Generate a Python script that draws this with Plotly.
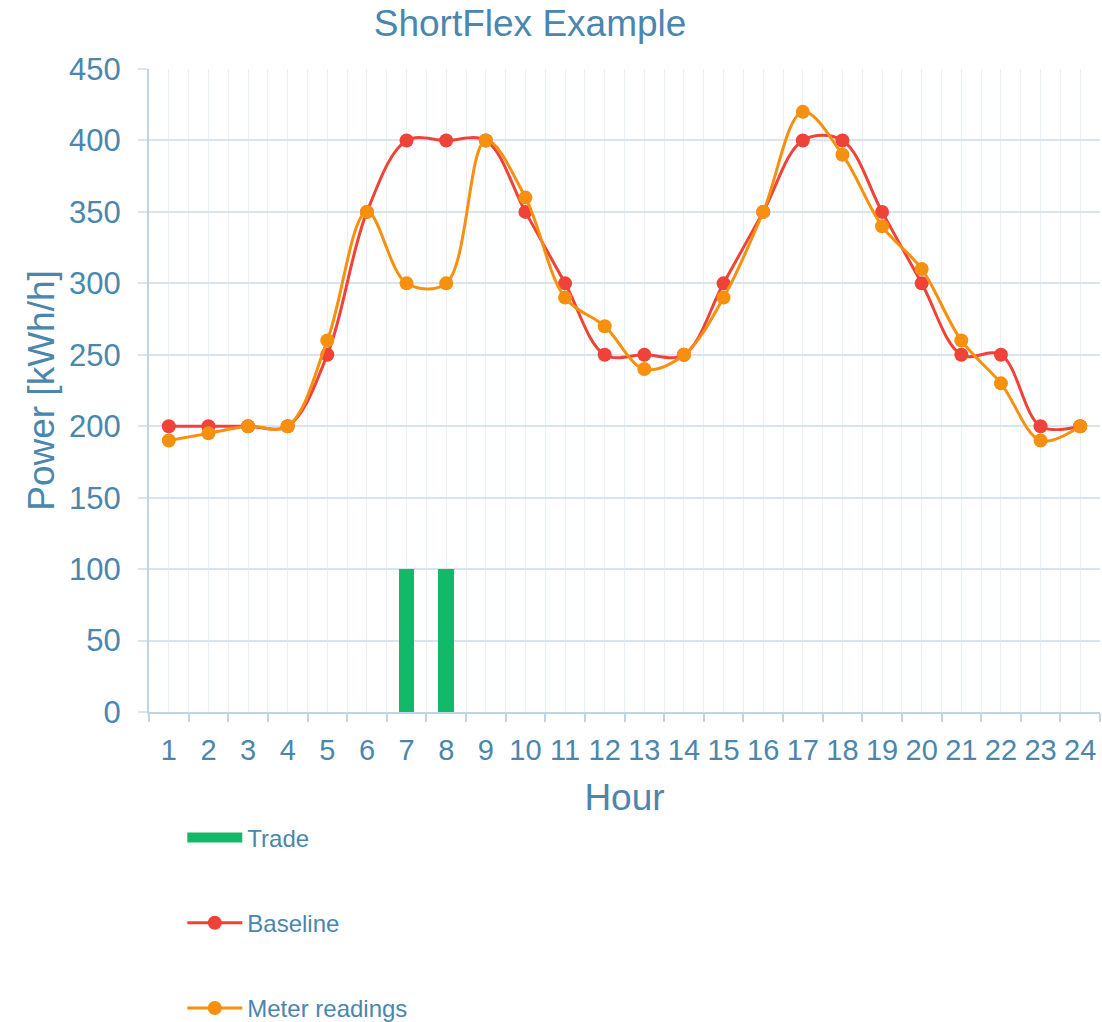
import plotly.graph_objects as go

hours = list(range(1, 25))
hour_labels = [str(h) for h in hours]
trade = [None, None, None, None, None, None, 100, 100, None, None, None, None,
         None, None, None, None, None, None, None, None, None, None, None, None]
baseline = [200, 200, 200, 200, 250, 350, 400, 400, 400, 350, 300, 250,
            250, 250, 300, 350, 400, 400, 350, 300, 250, 250, 200, 200]
meter = [190, 195, 200, 200, 260, 350, 300, 300, 400, 360, 290, 270,
         240, 250, 290, 350, 420, 390, 340, 310, 260, 230, 190, 200]

TXT = "#4a86ad"
FONT = "Liberation Sans, Arial, sans-serif"
GREEN = "#13b868"

fig = go.Figure()
fig.add_trace(go.Bar(x=hours, y=trade, name="Trade", width=0.4,
                     marker=dict(color=GREEN, line=dict(width=0)),
                     legendgroup="a", showlegend=False))
# legend-only entry to show a wide green swatch like the reference
fig.add_trace(go.Scatter(x=[None], y=[None], name="Trade", mode="lines",
                         line=dict(color=GREEN, width=14), legendgroup="a"))
fig.add_trace(go.Scatter(x=hours, y=baseline, name="Baseline", mode="lines+markers",
                         line=dict(color="#ef4238", width=3, shape="spline", smoothing=1),
                         marker=dict(size=14, color="#ef4238"), legendgroup="b"))
fig.add_trace(go.Scatter(x=hours, y=meter, name="Meter readings", mode="lines+markers",
                         line=dict(color="#f7900f", width=3, shape="spline", smoothing=1),
                         marker=dict(size=14, color="#f7900f"), legendgroup="c"))

fig.update_layout(
    width=1102, height=1022,
    margin=dict(l=149, r=2, t=69, b=310, autoexpand=False),
    paper_bgcolor="white", plot_bgcolor="white",
    font=dict(family=FONT, color=TXT),
    title=dict(text="ShortFlex Example", x=0.481, xanchor="center", y=0.977, yanchor="middle",
               font=dict(size=37, color=TXT)),
    showlegend=True,
    legend=dict(orientation="v", x=0.035, xanchor="left", y=-0.161, yanchor="top",
                font=dict(size=24, color=TXT), tracegroupgap=51, itemwidth=55,
                traceorder="grouped", bgcolor="rgba(0,0,0,0)"),
    xaxis=dict(
        range=[0.5, 24.5], tickmode="array", tickvals=hours, ticktext=hour_labels,
        ticks="", tickfont=dict(size=29, color=TXT), showgrid=True, gridcolor="#e8eff6",
        gridwidth=1, showline=True, linecolor="#c2d3e2", linewidth=2, zeroline=False,
        minor=dict(tick0=0.5, dtick=1, ticks="outside", ticklen=8, tickcolor="#c2d3e2",
                   tickwidth=2, showgrid=True, gridcolor="#e8eff6", gridwidth=1),
        title=dict(text="Hour", font=dict(size=37, color=TXT), standoff=19),
        ticklabelstandoff=11,
    ),
    yaxis=dict(
        range=[0, 450], dtick=50, tick0=0, ticks="outside", ticklen=9, tickcolor="#d9e4ee",
        tickwidth=2, tickfont=dict(size=31, color=TXT), showgrid=True, gridcolor="#d9e4ee",
        gridwidth=2, showline=True, linecolor="#c2d3e2", linewidth=2, zeroline=False,
        title=dict(text="Power [kWh/h]", font=dict(size=37, color=TXT), standoff=3),
        ticklabelstandoff=11,
    ),
    bargap=0,
)

fig.write_html("out.html", config={"displayModeBar": False},
               post_script="document.body.style.margin='0';document.body.style.overflow='hidden';")
